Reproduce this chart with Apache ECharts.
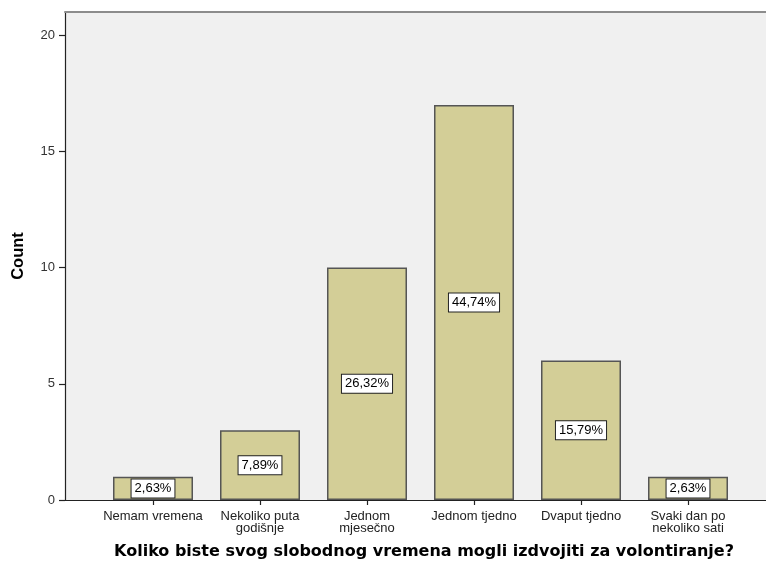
<!DOCTYPE html>
<html>
<head>
<meta charset="utf-8">
<script src="https://cdn.jsdelivr.net/npm/echarts@6/dist/echarts.min.js"></script>
<style>html,body{margin:0;padding:0;background:#fff;}#c{width:766px;height:565px;}</style>
</head>
<body>
<div id="c"></div>
<script>
var categories = ['Nemam vremena', 'Nekoliko puta\ngodišnje', 'Jednom\nmjesečno', 'Jednom tjedno', 'Dvaput tjedno', 'Svaki dan po\nnekoliko sati'];
var counts = [1, 3, 10, 17, 6, 1];
var percents = [2.63, 7.89, 26.32, 44.74, 15.79, 2.63];
var yTicks = [0, 5, 10, 15, 20];
var xTitle = 'Koliko biste svog slobodnog vremena mogli izdvojiti za volontiranje?';
var yTitle = 'Count';

var chart = echarts.init(document.getElementById('c'), null, {renderer: 'canvas'});
var FONT = 'Liberation Sans, Arial, sans-serif';
chart.setOption({
  animation: false,
  backgroundColor: '#ffffff',
  grid: [
    {left: 65, right: 0, top: 12, bottom: 65, show: true, backgroundColor: '#f0f0f0', borderWidth: 0},
    {left: 99.5, right: 24.5, top: 12, bottom: 65}
  ],
  xAxis: [
    {gridIndex: 0, type: 'value', position: 'bottom', min: 0, max: 1,
     axisLine: {show: true, lineStyle: {color: '#222', width: 1.2}}, axisTick: {show: false}, axisLabel: {show: false}, splitLine: {show: false}},
    {gridIndex: 0, type: 'value', position: 'top', min: 0, max: 1,
     axisLine: {show: true, lineStyle: {color: '#8c8c8c', width: 2}}, axisTick: {show: false}, axisLabel: {show: false}, splitLine: {show: false}},
    {gridIndex: 1, type: 'category', data: categories, position: 'bottom',
     axisLine: {show: false},
     axisTick: {show: true, alignWithLabel: true, length: 5, lineStyle: {color: '#222', width: 1.2}},
     axisLabel: {color: '#222', fontFamily: FONT, fontSize: 13, lineHeight: 12.5, margin: 10, interval: 0},
     name: xTitle, nameLocation: 'middle', nameGap: 44,
     nameTextStyle: {fontFamily: 'DejaVu Sans', fontWeight: 'bold', fontSize: 16, color: '#000', padding: [0, 0, 0, 7]}}
  ],
  yAxis: [
    {gridIndex: 0, type: 'value', min: 0, max: 21, interval: 5,
     axisLine: {show: true, lineStyle: {color: '#222', width: 1.2}},
     axisTick: {show: true, length: 6, customValues: yTicks, lineStyle: {color: '#222', width: 1.2}},
     axisLabel: {show: true, customValues: yTicks, color: '#333', fontFamily: FONT, fontSize: 13, margin: 10},
     splitLine: {show: false},
     name: yTitle, nameLocation: 'middle', nameGap: 38, nameRotate: 90,
     nameTextStyle: {fontFamily: FONT, fontWeight: 'bold', fontSize: 16.5, color: '#000'}},
    {gridIndex: 1, type: 'value', min: 0, max: 21, show: false}
  ],
  series: [{
    type: 'bar',
    xAxisIndex: 2,
    yAxisIndex: 1,
    data: counts,
    barWidth: 80,
    itemStyle: {color: '#d3ce97', borderColor: '#555', borderWidth: 1.5},
    label: {
      show: true,
      position: 'inside',
      formatter: function (p) { return percents[p.dataIndex].toFixed(2).replace('.', ',') + '%'; },
      color: '#000',
      fontFamily: FONT,
      fontSize: 13,
      backgroundColor: '#ffffff',
      borderColor: '#222',
      borderWidth: 1,
      padding: [3, 3, 2, 3]
    }
  }]
});
</script>
</body>
</html>
